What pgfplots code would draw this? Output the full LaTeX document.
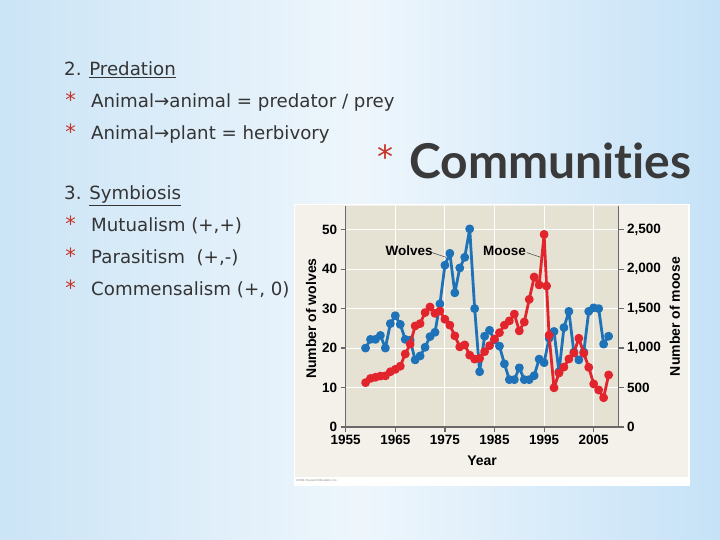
\documentclass[border=0pt]{standalone}
\usepackage{pgfplots}
\pgfplotsset{compat=1.18}
\usepackage{fontspec}
\setmainfont{DejaVu Sans}
\newfontfamily\chartfont{Liberation Sans}
\newfontfamily\titlefont[Ligatures=NoCommon]{Lato}

\definecolor{slideL}{RGB}{203,228,246}
\definecolor{slideM}{RGB}{238,246,252}
\definecolor{slideR}{RGB}{198,226,247}
\definecolor{txt}{RGB}{52,52,52}
\definecolor{bulletred}{RGB}{196,52,40}
\definecolor{titlegray}{RGB}{58,58,58}
\definecolor{panel}{RGB}{243,241,234}
\definecolor{plotbg}{RGB}{229,226,212}
\definecolor{axisgray}{RGB}{105,105,105}
\definecolor{wolfblue}{RGB}{30,114,184}
\definecolor{moosered}{RGB}{226,36,44}

\newcommand\slidefont{\fontsize{18.2}{20}\selectfont}
\newcommand\bul{\fontsize{21}{21}\selectfont\color{bulletred}*}
\newcommand\cfont{\chartfont\bfseries\fontsize{13.5}{14}\selectfont}
\newcommand\lfont{\chartfont\bfseries\fontsize{14}{15}\selectfont}

\begin{document}
\begin{tikzpicture}[x=1pt,y=1pt]
\useasboundingbox (0,0) rectangle (720,540);
\shade[left color=slideL, right color=slideR, middle color=slideM] (0,0) rectangle (720,540);

% left-hand text (baselines in pt from bottom)
\begin{scope}[every node/.style={anchor=base west, inner sep=0pt, text=txt, font=\slidefont}]
\node at (64,464) {2. \underline{Predation}};
\node at (91,432) {Animal→animal = predator / prey};
\node at (91,400) {Animal→plant = herbivory};
\node at (64,340) {3. \underline{Symbiosis}};
\node at (91,308) {Mutualism (+,+)};
\node at (91,276) {Parasitism\ \ (+,-)};
\node at (91,244) {Commensalism (+, 0)};
\end{scope}
\begin{scope}[every node/.style={anchor=base, inner sep=0pt}]
\foreach \yy in {432,400,308,276,244} \node at (70.5,\yy) {\bul};
\node at (385,371) {\fontsize{32}{32}\selectfont\color{bulletred}*};
\end{scope}
\node[anchor=base west, inner sep=0pt, text=titlegray,
      font=\titlefont\bfseries\fontsize{48}{50}\selectfont] at (409,361) {Communities};

% figure panel
\fill[white] (294,54) rectangle (690,336);
\fill[panel] (295,63) rectangle (688,335);
\node[anchor=west, inner sep=0pt, text=gray, font=\chartfont\fontsize{3}{3}\selectfont]
  at (296,59) {\textcopyright 2011 Pearson Education, Inc.};

\pgfplotsset{
  moosechart/.style={
    at={(345.7pt,113pt)}, anchor=south west,
    scale only axis, width=272.8pt, height=221pt,
    xmin=1955, xmax=2010,
    /pgf/number format/assume math mode=true,
    axis line style={draw=axisgray, line width=1.2pt, -},
    tick align=outside, major tick length=5pt,
    tick style={draw=axisgray, line width=1.2pt},
    ticklabel style={font=\cfont},
    label style={font=\lfont},
    scaled ticks=false,
    every axis plot/.append style={line width=2.8pt, line join=round, mark=*, mark size=3pt},
  }
}

\begin{axis}[moosechart,
  ymin=0, ymax=56,
  axis x line*=bottom, axis y line*=left,
  axis background/.style={fill=plotbg},
  xtick={1955,1965,...,2005}, ytick={0,10,...,50},
  xticklabel style={/pgf/number format/1000 sep=},
  grid=major, grid style={white, line width=1pt},
  xlabel={Year}, ylabel={Number of wolves},
  xlabel style={at={(axis description cs:0.5,-0.154)}, anchor=center},
  ylabel style={at={(axis description cs:-0.127,0.49)}, anchor=center},
]
\addplot[wolfblue] coordinates {
  (1959,20) (1960,22.2) (1961,22.2) (1962,23.2) (1963,20) (1964,26.2) (1965,28.2)
  (1966,26) (1967,22.2) (1968,22) (1969,17) (1970,18) (1971,20.2) (1972,22.9)
  (1973,24) (1974,31.2) (1975,41) (1976,44) (1977,34) (1978,40.3) (1979,43)
  (1980,50.2) (1981,30) (1982,14) (1983,23) (1984,24.5) (1985,22) (1986,20.5)
  (1987,16) (1988,12) (1989,12) (1990,15) (1991,12) (1992,12) (1993,13)
  (1994,17.2) (1995,16.3) (1996,22.5) (1997,24.2) (1998,14) (1999,25.2)
  (2000,29.3) (2001,19) (2002,17) (2003,19) (2004,29.3) (2005,30.2) (2006,30)
  (2007,21) (2008,23)
};
\node[font=\cfont] at (axis cs:1967.8,44.7) {Wolves};
\draw[black!75, line width=0.5pt] (axis cs:1972.4,44.2) -- (axis cs:1975.2,43);
\node[font=\cfont] at (axis cs:1987,44.7) {Moose};
\draw[black!75, line width=0.5pt] (axis cs:1991.5,44.2) -- (axis cs:1994.3,43);
\end{axis}

\begin{axis}[moosechart,
  ymin=0, ymax=2800,
  axis x line=none, axis y line*=right,
  ytick={0,500,...,2500},
  ylabel={Number of moose},
  ylabel style={at={(axis description cs:1.207,0.5)}, anchor=center},
]
\addplot[moosered] coordinates {
  (1959,562) (1960,615) (1961,630) (1962,645) (1963,648) (1964,700) (1965,730)
  (1966,770) (1967,925) (1968,1050) (1969,1280) (1970,1310) (1971,1450)
  (1972,1520) (1973,1440) (1974,1470) (1975,1365) (1976,1290) (1977,1155)
  (1978,1015) (1979,1040) (1980,910) (1981,860) (1982,870) (1983,955)
  (1984,1030) (1985,1115) (1986,1195) (1987,1290) (1988,1345) (1989,1430)
  (1990,1218) (1991,1330) (1992,1617) (1993,1900) (1994,1800) (1995,2440)
  (1995.5,1786) (1996,1163) (1997,497) (1998,684) (1999,760) (2000,862)
  (2001,938) (2002,1124) (2003,934) (2004,756) (2005,545) (2006,469)
  (2007,371) (2008,659)
};
\end{axis}
\end{tikzpicture}
\end{document}
